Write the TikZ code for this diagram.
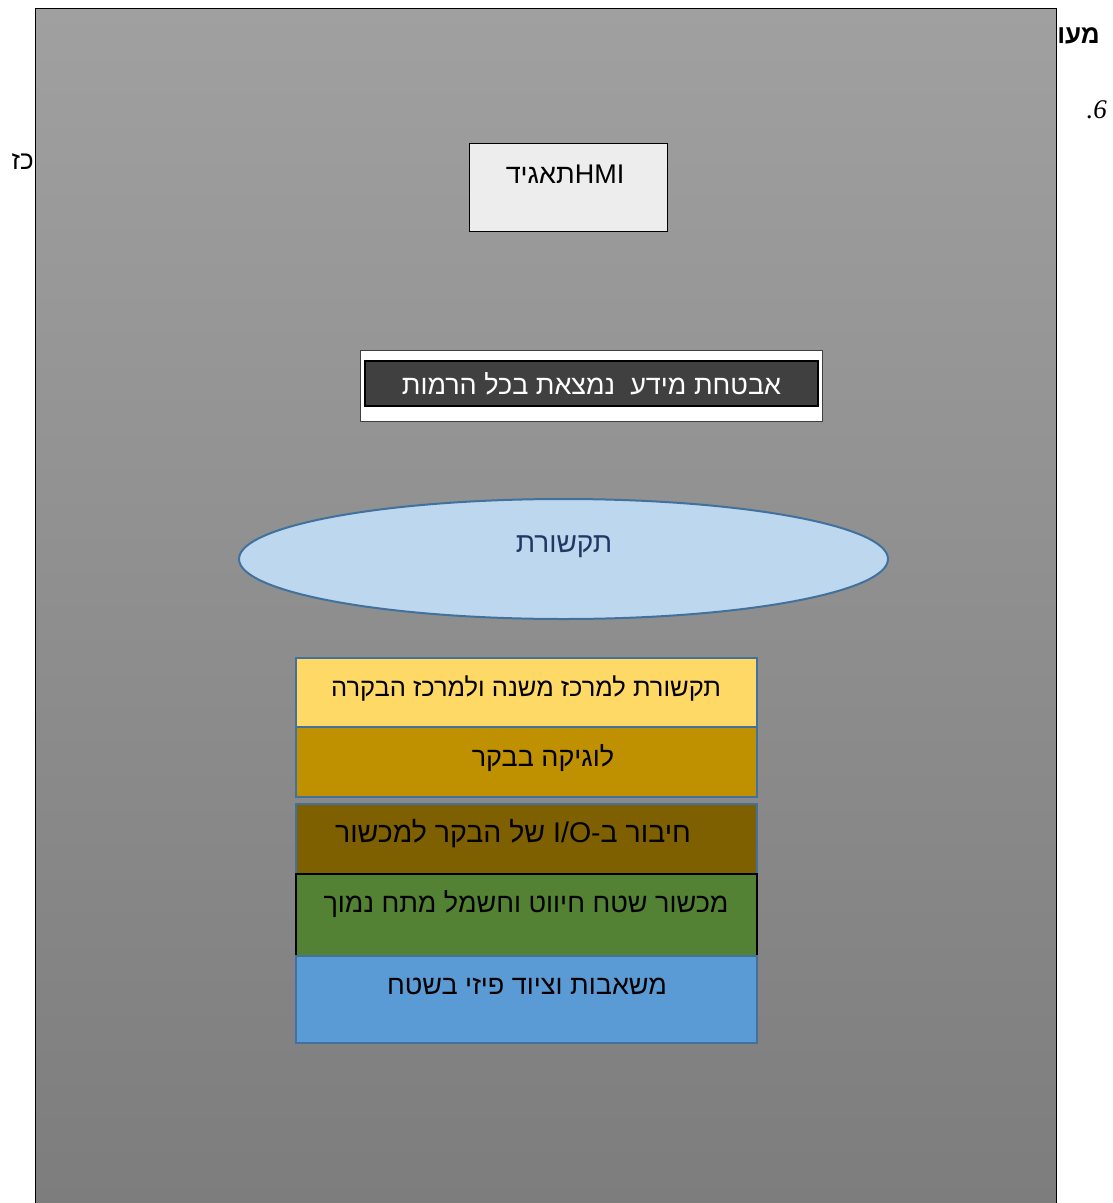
\documentclass[tikz,border=0pt]{standalone}
\usepackage{fontspec}
\setmainfont{Liberation Sans}
\newfontfamily\heb[Script=Hebrew]{Liberation Sans}
\newfontfamily\sixfont{Liberation Serif}
\TeXXeTstate=1
\usetikzlibrary{shapes.geometric}
\definecolor{gtop}{HTML}{A0A0A0}
\definecolor{gbot}{HTML}{7D7D7D}
\definecolor{hmifill}{HTML}{EDEDED}
\definecolor{secdark}{HTML}{404040}
\definecolor{ellfill}{HTML}{BDD7EE}
\definecolor{ellline}{HTML}{41719C}
\definecolor{elltext}{HTML}{203864}
\definecolor{lyellow}{HTML}{FFD966}
\definecolor{lgold}{HTML}{BF9000}
\definecolor{lbrown}{HTML}{7F6000}
\definecolor{lgreen}{HTML}{548235}
\definecolor{lblue}{HTML}{5B9BD5}
\tikzset{
  layer/.style={draw=ellline, line width=2pt, minimum width=461pt, inner sep=0pt},
  htext/.style={font=\heb\fontsize{27}{31}\selectfont, inner sep=0pt},
}
\begin{document}
\begin{tikzpicture}[x=1pt,y=-1pt]
\useasboundingbox (0,0) rectangle (1113,1203);
\fill[white] (0,0) rectangle (1113,1203);
% texts partly behind the panel
\node[anchor=east, inner sep=0pt, font=\heb\bfseries\fontsize{26}{30}\selectfont] (hdr) at (1100,36) {\beginR מעו\endR};
\node[anchor=east, inner sep=0pt, font=\sixfont\itshape\fontsize{27}{31}\selectfont] (six) at (1107,110) {.6};
\node[anchor=east, inner sep=0pt, font=\heb\fontsize{26}{30}\selectfont] (kz) at (34,162) {\beginR כז\endR};
% panel
\shade[top color=gtop, bottom color=gbot] (35,8) rectangle (1056,1203);
\draw[black, line width=1pt] (35,1204) -- (35,8) -- (1056,8) -- (1056,1204);
% HMI
\node[draw=black, line width=1pt, fill=hmifill, minimum width=198pt, minimum height=88pt, inner sep=0pt] (hmi) at (568,187) {};
\node[htext] (hmitext) at (565,174) {\beginR\beginL HMI\endL{}תאגיד\endR};
% security
\node[draw=secdark, line width=1pt, fill=white, minimum width=462pt, minimum height=71pt, inner sep=0pt] (secout) at (591,385.5) {};
\node[draw=black, line width=2pt, fill=secdark, minimum width=453pt, minimum height=45pt, inner sep=0pt, text=white, font=\heb\fontsize{27}{31}\selectfont] (sec) at (591.5,383.5) {\beginR אבטחת מידע\ \ נמצאת בכל הרמות\endR};
% communication ellipse
\node[ellipse, draw=ellline, line width=2pt, fill=ellfill, minimum width=649pt, minimum height=120pt, inner sep=0pt] (comm) at (563.5,559) {};
\node[htext, font=\heb\fontsize{28}{32}\selectfont, text=elltext] (commtext) at (564,547) {\beginR תקשורת\endR};
% layers
\node[layer, fill=lyellow, minimum height=69pt] (l1) at (526.5,692.5) {};
\node[layer, fill=lgold, minimum height=70pt] (l2) at (526.5,762) {};
\node[layer, fill=lbrown, minimum height=70pt] (l3) at (526.5,839) {};
\node[layer, draw=black, fill=lgreen, minimum height=82pt] (l4) at (526.5,915) {};
\node[layer, fill=lblue, minimum height=87pt] (l5) at (526.5,999.5) {};
\node[htext, font=\heb\fontsize{25.5}{30}\selectfont] (t1) at (526,689) {\beginR תקשורת למרכז משנה ולמרכז הבקרה\endR};
\node[htext] (t2) at (543,758) {\beginR לוגיקה בבקר\endR};
\node[htext, font=\heb\fontsize{28.5}{32}\selectfont] (t3) at (513,834) {\beginR חיבור ב-\beginL I/O\endL{} של הבקר למכשור\endR};
\node[htext] (t4) at (526,904) {\beginR מכשור שטח חיווט וחשמל מתח נמוך\endR};
\node[htext] (t5) at (527,986) {\beginR משאבות וציוד פיזי בשטח\endR};
\end{tikzpicture}
\end{document}
